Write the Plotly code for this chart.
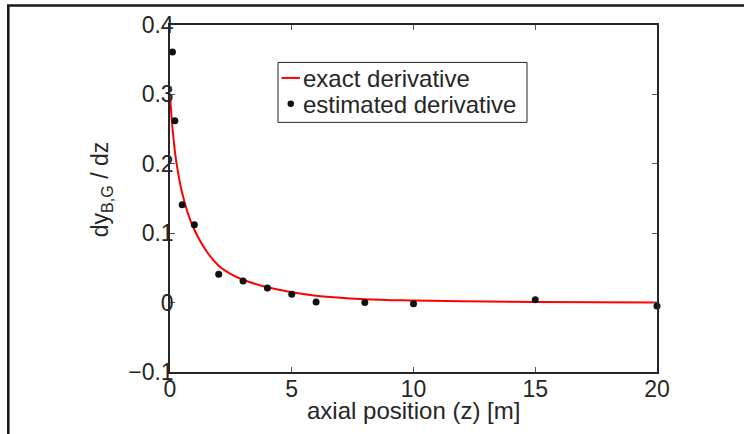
import plotly.graph_objects as go

# exact derivative curve
z_exact = [0, 0.1, 0.25, 0.5, 0.75, 1, 1.5, 2, 2.5, 3, 4, 5, 6, 8, 10, 12, 15, 20]
dy_exact = [0.300, 0.252, 0.205, 0.158, 0.127, 0.105, 0.074, 0.053, 0.041, 0.033,
            0.022, 0.015, 0.010, 0.005, 0.003, 0.0018, 0.0008, 0.0]

# estimated derivative points
z_est = [0.1, 0.2, 0.5, 1, 2, 3, 4, 5, 6, 8, 10, 15, 20]
dy_est = [0.361, 0.262, 0.141, 0.112, 0.041, 0.031, 0.021, 0.012, 0.001, 0.0,
          -0.0015, 0.004, -0.005]

x_ticks = [0, 5, 10, 15, 20]
y_ticks = [-0.1, 0, 0.1, 0.2, 0.3, 0.4]

legend_names = ["exact derivative", "estimated derivative"]
x_title = "axial position (z) [m]"
y_title = "dy<sub>B,G</sub> / dz"

FONT = "Liberation Sans, Arial, Helvetica, sans-serif"
INK = "#262626"
W, H = 744, 434
L, R, T, B = 170, 87, 24.5, 62
PW, PH = W - L - R, H - T - B


def px(x):  # canvas px -> paper x
    return (x - L) / PW


def py(y):  # canvas px -> paper y
    return (H - B - y) / PH


fig = go.Figure()
fig.add_trace(go.Scatter(x=z_exact, y=dy_exact, mode="lines", name=legend_names[0],
                         line=dict(color="#ff0000", width=2, shape="spline", smoothing=1.0),
                         showlegend=False))
fig.add_trace(go.Scatter(x=z_est, y=dy_est, mode="markers", name=legend_names[1],
                         marker=dict(color="#111111", size=7), cliponaxis=False,
                         showlegend=False))

axis_common = dict(showgrid=False, zeroline=False, showline=True, linecolor=INK,
                   linewidth=1.5, mirror="ticks", ticks="inside", ticklen=5,
                   tickcolor="#555555", tickwidth=1, automargin=False,
                   tickfont=dict(family=FONT, size=23, color=INK))

fig.update_layout(
    width=W, height=H,
    margin=dict(l=L, r=R, t=T, b=B, pad=0),
    paper_bgcolor="white", plot_bgcolor="white",
    font=dict(family=FONT, size=23, color=INK),
    xaxis=dict(range=[0, 20], tickvals=x_ticks, ticklabelstandoff=-4, **axis_common),
    yaxis=dict(range=[-0.1, 0.4], tickvals=y_ticks, ticklabelstandoff=-10, **axis_common),
    showlegend=False,
)

# axis titles
fig.add_annotation(xref="paper", yref="paper", x=0.5, y=py(411), text=x_title,
                   showarrow=False, xanchor="center", yanchor="middle",
                   font=dict(family=FONT, size=24, color=INK))
fig.add_annotation(xref="paper", yref="paper", x=px(101), y=py(189), text=y_title,
                   showarrow=False, textangle=-90, xanchor="center", yanchor="middle",
                   font=dict(family=FONT, size=23, color=INK))

# legend box
fig.add_shape(type="rect", xref="paper", yref="paper",
              x0=px(278), x1=px(527), y0=py(122), y1=py(62),
              line=dict(color=INK, width=1), fillcolor="white", layer="above")
fig.add_shape(type="line", xref="paper", yref="paper",
              x0=px(281.5), x1=px(300), y0=py(77.5), y1=py(77.5),
              line=dict(color="#ff0000", width=2), layer="above")
fig.add_shape(type="circle", xref="paper", yref="paper",
              x0=px(287.5), x1=px(294), y0=py(106.5), y1=py(100),
              line=dict(color="#111111", width=0), fillcolor="#111111", layer="above")
fig.add_annotation(xref="paper", yref="paper", x=px(301), y=py(78.5), text=legend_names[0],
                   showarrow=False, xanchor="left", yanchor="middle",
                   font=dict(family=FONT, size=24, color=INK))
fig.add_annotation(xref="paper", yref="paper", x=px(301), y=py(104.5), text=legend_names[1],
                   showarrow=False, xanchor="left", yanchor="middle",
                   font=dict(family=FONT, size=24, color=INK))

# outer figure frame (left and top edges visible)
fig.add_shape(type="path", xref="paper", yref="paper",
              path=f"M {px(8.3)} -0.3 L {px(8.3)} {py(5)} L 1.3 {py(5)}",
              line=dict(color="#1a1a1a", width=2.6), layer="above")

fig.write_html("out.html", config={"displayModeBar": False},
               post_script="document.body.style.margin='0';")
